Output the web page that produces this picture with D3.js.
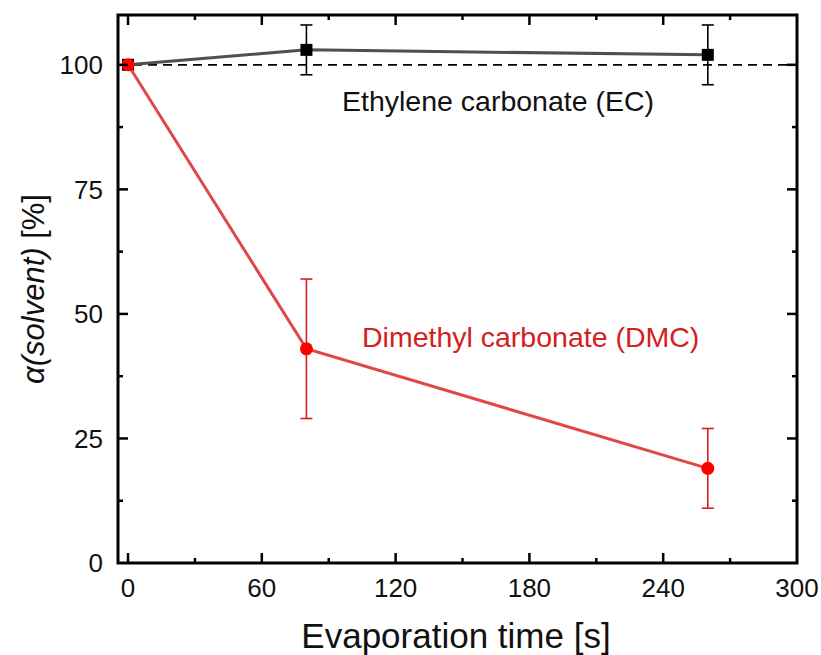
<!DOCTYPE html>
<html>
<head>
<meta charset="utf-8">
<script src="https://cdn.jsdelivr.net/npm/d3@7"></script>
<style>
  body { margin: 0; background: #fff; }
  svg { display: block; font-family: "Liberation Sans", Arial, sans-serif; }
</style>
</head>
<body>
<script>
// evaporation time [s]
const time = [0, 80, 260];
// ethylene carbonate, alpha [%] and error
const ecValue = [100, 103, 102];
const ecError = [0, 5, 6];
// dimethyl carbonate, alpha [%] and error
const dmcValue = [100, 43, 19];
const dmcError = [0, 14, 8];

const xTicks = [0, 60, 120, 180, 240, 300];
const yTicks = [0, 25, 50, 75, 100];

const width = 821, height = 655;
const margin = {top: 15, right: 24, bottom: 92, left: 118};

const svg = d3.select("body").append("svg")
    .attr("width", width)
    .attr("height", height);

const x = d3.scaleLinear([-4.5, 300], [margin.left, width - margin.right]);
const y = d3.scaleLinear([0, 110], [height - margin.bottom, margin.top]);

const minorX = d3.range(30, 300, 60);
const minorY = d3.range(12.5, 110, 25);

// reference line at 100 %
svg.append("line")
    .attr("x1", x.range()[0]).attr("x2", x.range()[1])
    .attr("y1", y(100)).attr("y2", y(100))
    .attr("stroke", "#000")
    .attr("stroke-width", 1.8)
    .attr("stroke-dasharray", "9,6");

const line = d3.line().x(d => x(d[0])).y(d => y(d[1]));

function series(values, errors, lineColor, errColor) {
  const pts = time.map((t, i) => [t, values[i], errors[i]]);
  svg.append("path")
      .datum(pts)
      .attr("fill", "none")
      .attr("stroke", lineColor)
      .attr("stroke-width", 3)
      .attr("d", line);
  const g = svg.append("g")
      .attr("stroke", errColor)
      .attr("stroke-width", 1.6);
  pts.filter(d => d[2] > 0).forEach(d => {
    g.append("line")
        .attr("x1", x(d[0])).attr("x2", x(d[0]))
        .attr("y1", y(d[1] - d[2])).attr("y2", y(d[1] + d[2]));
    for (const v of [d[1] - d[2], d[1] + d[2]]) {
      g.append("line")
          .attr("x1", x(d[0]) - 6).attr("x2", x(d[0]) + 6)
          .attr("y1", y(v)).attr("y2", y(v));
    }
  });
  return pts;
}

const ec = series(ecValue, ecError, "#505050", "#000");
svg.append("g").selectAll("rect")
  .data(ec)
  .join("rect")
    .attr("x", d => x(d[0]) - 6)
    .attr("y", d => y(d[1]) - 6)
    .attr("width", 12)
    .attr("height", 12)
    .attr("fill", "#000");

const dmc = series(dmcValue, dmcError, "#e04848", "#d42020");
svg.append("g").selectAll("circle")
  .data(dmc)
  .join("circle")
    .attr("cx", d => x(d[0]))
    .attr("cy", d => y(d[1]))
    .attr("r", 6.5)
    .attr("fill", "#ff0000");

// frame
svg.append("rect")
    .attr("x", x.range()[0]).attr("y", y.range()[1])
    .attr("width", x.range()[1] - x.range()[0])
    .attr("height", y.range()[0] - y.range()[1])
    .attr("fill", "none")
    .attr("stroke", "#000")
    .attr("stroke-width", 3);

const ticks = svg.append("g").attr("stroke", "#000").attr("stroke-width", 2.5);
const y0 = y.range()[0], y1 = y.range()[1], x0 = x.range()[0], x1 = x.range()[1];
for (const t of xTicks.concat(minorX)) {
  const len = xTicks.includes(t) ? 10 : 5;
  if (t === 300) continue;
  ticks.append("line").attr("x1", x(t)).attr("x2", x(t)).attr("y1", y0).attr("y2", y0 - len);
  ticks.append("line").attr("x1", x(t)).attr("x2", x(t)).attr("y1", y1).attr("y2", y1 + len);
}
for (const t of yTicks.concat(minorY)) {
  const len = yTicks.includes(t) ? 10 : 5;
  if (t === 0) continue;
  ticks.append("line").attr("x1", x0).attr("x2", x0 + len).attr("y1", y(t)).attr("y2", y(t));
  ticks.append("line").attr("x1", x1).attr("x2", x1 - len).attr("y1", y(t)).attr("y2", y(t));
}

// tick labels
svg.append("g").selectAll("text")
  .data(xTicks)
  .join("text")
    .attr("x", d => x(d))
    .attr("y", y0 + 34)
    .attr("text-anchor", "middle")
    .attr("font-size", 26)
    .attr("fill", "#111")
    .text(d => d);

svg.append("g").selectAll("text")
  .data(yTicks)
  .join("text")
    .attr("x", x0 - 15)
    .attr("y", d => y(d))
    .attr("dy", "0.36em")
    .attr("text-anchor", "end")
    .attr("font-size", 26)
    .attr("fill", "#111")
    .text(d => d);

// axis titles
svg.append("text")
    .attr("x", 456)
    .attr("y", 648)
    .attr("text-anchor", "middle")
    .attr("font-size", 35)
    .attr("fill", "#111")
    .text("Evaporation time [s]");

const yl = svg.append("text")
    .attr("transform", `translate(44,${(y0 + y1) / 2}) rotate(-90)`)
    .attr("text-anchor", "middle")
    .attr("font-size", 31)
    .attr("fill", "#111");
yl.append("tspan").attr("font-style", "italic").text("α(solvent)");
yl.append("tspan").text(" [%]");

// series labels
svg.append("text")
    .attr("x", 342)
    .attr("y", 111)
    .attr("font-size", 28.5)
    .attr("fill", "#111")
    .text("Ethylene carbonate (EC)");

svg.append("text")
    .attr("x", 362)
    .attr("y", 347)
    .attr("font-size", 28.5)
    .attr("fill", "#d42020")
    .text("Dimethyl carbonate (DMC)");
</script>
</body>
</html>
